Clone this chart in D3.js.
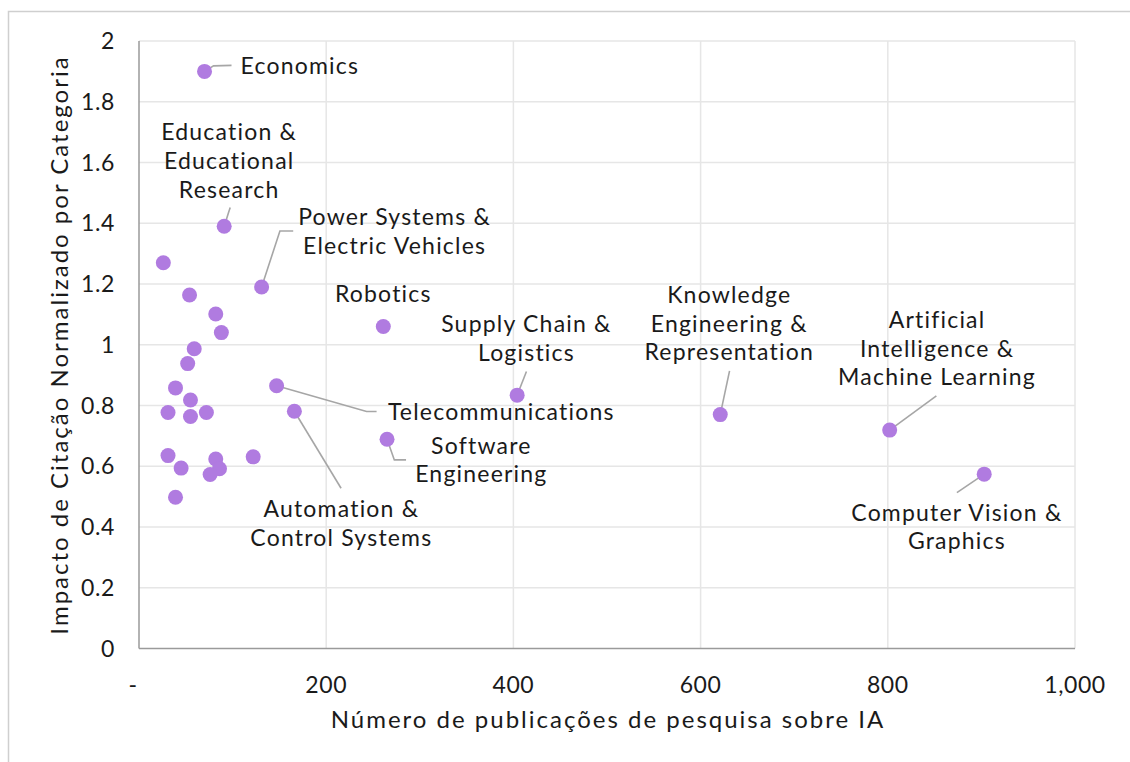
<!DOCTYPE html>
<html>
<head>
<meta charset="utf-8">
<script src="https://cdn.jsdelivr.net/npm/d3@7"></script>
<style>
  body { margin: 0; background: #fff; }
  svg text { font-family: Lato, "Open Sans", sans-serif; fill: #1a1a1a; }
</style>
</head>
<body>
<svg id="drawing_region"></svg>
<script>
// data
const names = [
    "Economics", "Education & Educational Research", "Power Systems & Electric Vehicles",
    "Robotics", "Supply Chain & Logistics", "Telecommunications", "Software Engineering",
    "Automation & Control Systems", "Knowledge Engineering & Representation",
    "Artificial Intelligence & Machine Learning", "Computer Vision & Graphics",
    "", "", "", "", "", "", "", "", "", "", "", "", "", "", "", "", "", ""
];
const publications = [
    70, 91, 131, 261, 404, 147, 265, 166, 621, 802, 903,
    26, 54, 82, 88, 59, 52, 39, 55, 31, 55, 72, 31, 45, 82, 86, 76, 122, 39
];
const impact = [
    1.90, 1.39, 1.19, 1.06, 0.834, 0.865, 0.689, 0.781, 0.770, 0.719, 0.574,
    1.27, 1.164, 1.101, 1.04, 0.987, 0.938, 0.858, 0.818, 0.777, 0.764, 0.777, 0.635, 0.594, 0.624, 0.592, 0.573, 0.631, 0.498
];
const xTicks = [0, 200, 400, 600, 800, 1000];
const yTicks = [0, 0.2, 0.4, 0.6, 0.8, 1, 1.2, 1.4, 1.6, 1.8, 2];
const xTitle = "Número de publicações de pesquisa sobre IA";
const yTitle = "Impacto de Citação Normalizado por Categoria";

// label layout: text lines, offset of first line from the dot, leader path (pixels)
const labelLayout = {
    "Economics": { lines: ["Economics"], dx: 36, dy: -5, anchor: "start", leader: [[0,0],[9,-5.5],[27,-6]] },
    "Education & Educational Research": { lines: ["Education &", "Educational", "Research"], dx: 5, dy: -94, leader: [[0,0],[6,-18.7]] },
    "Power Systems & Electric Vehicles": { lines: ["Power Systems &", "Electric Vehicles"], dx: 133, dy: -70, leader: [[0,0],[18.3,-56],[31.6,-56]] },
    "Robotics": { lines: ["Robotics"], dx: 0, dy: -32.5, leader: null },
    "Supply Chain & Logistics": { lines: ["Supply Chain &", "Logistics"], dx: 9.3, dy: -71.3, leader: [[0,0],[9.3,-23.6]] },
    "Telecommunications": { lines: ["Telecommunications"], dx: 111.3, dy: 25.7, anchor: "start", leader: [[0,0],[90,25.7],[100,25.7]] },
    "Software Engineering": { lines: ["Software", "Engineering"], dx: 94.3, dy: 6.4, leader: [[0,0],[7.3,20.7],[19,20.7]] },
    "Automation & Control Systems": { lines: ["Automation &", "Control Systems"], dx: 47, dy: 97.7, leader: [[0,0],[46.7,77]] },
    "Knowledge Engineering & Representation": { lines: ["Knowledge", "Engineering &", "Representation"], dx: 9, dy: -119.7, leader: [[0,0],[9.3,-43.7]] },
    "Artificial Intelligence & Machine Learning": { lines: ["Artificial", "Intelligence &", "Machine Learning"], dx: 47.4, dy: -110.3, leader: [[0,0],[46.7,-34.3]] },
    "Computer Vision & Graphics": { lines: ["Computer Vision &", "Graphics"], dx: -27.3, dy: 38.4, leader: [[0,0],[-27.3,18.4]] }
};

const config = {
    width: 1130,
    height: 762,
    margin: { top: 41, right: 55, bottom: 113.5, left: 139 }
};

const points = names.map((n, i) => ({ name: n, x: publications[i], y: impact[i] }));

const svg = d3.select("#drawing_region")
    .attr("width", config.width)
    .attr("height", config.height);

// outer chart area border (cropped on right and bottom)
svg.append("rect")
    .attr("x", 8.5).attr("y", 11.5)
    .attr("width", 1200).attr("height", 900)
    .attr("fill", "none")
    .attr("stroke", "#cfcfcf")
    .attr("stroke-width", 1.5);

const iw = config.width - config.margin.left - config.margin.right;
const ih = config.height - config.margin.top - config.margin.bottom;

const chart = svg.append("g")
    .attr("transform", `translate(${config.margin.left}, ${config.margin.top})`);

const xScale = d3.scaleLinear().domain([0, 1000]).range([0, iw]);
const yScale = d3.scaleLinear().domain([0, 2]).range([ih, 0]);

// gridlines
chart.append("g").selectAll("line")
    .data(yTicks.filter(d => d > 0))
    .join("line")
    .attr("x1", 0).attr("x2", iw)
    .attr("y1", d => yScale(d)).attr("y2", d => yScale(d))
    .attr("stroke", "#e6e6e6").attr("stroke-width", 1.5);

chart.append("g").selectAll("line")
    .data(xTicks.filter(d => d > 0))
    .join("line")
    .attr("x1", d => xScale(d)).attr("x2", d => xScale(d))
    .attr("y1", 0).attr("y2", ih)
    .attr("stroke", "#e6e6e6").attr("stroke-width", 1.5);

// axes lines
chart.append("line")
    .attr("x1", 0).attr("x2", 0).attr("y1", 0).attr("y2", ih)
    .attr("stroke", "#9a9a9a").attr("stroke-width", 1.5);
chart.append("line")
    .attr("x1", 0).attr("x2", iw).attr("y1", ih).attr("y2", ih)
    .attr("stroke", "#9a9a9a").attr("stroke-width", 1.5);

// tick labels
chart.append("g").selectAll("text")
    .data(yTicks)
    .join("text")
    .attr("x", -24)
    .attr("y", d => yScale(d))
    .attr("dy", "0.35em")
    .attr("text-anchor", "end")
    .style("font-size", "23px")
    .style("letter-spacing", "0.6px")
    .text(d => String(+d.toFixed(1)));

chart.append("g").selectAll("text")
    .data(xTicks)
    .join("text")
    .attr("x", d => xScale(d) + (d === 0 ? -6 : 0))
    .attr("y", ih + 36)
    .attr("dy", "0.35em")
    .attr("text-anchor", "middle")
    .style("font-size", "23px")
    .style("letter-spacing", "0.6px")
    .text(d => d === 0 ? "-" : d3.format(",")(d));

// axis titles
svg.append("text")
    .attr("x", 608)
    .attr("y", 720)
    .attr("dy", "0.35em")
    .attr("text-anchor", "middle")
    .style("font-size", "24px")
    .style("letter-spacing", "2px")
    .text(xTitle);

svg.append("text")
    .attr("transform", `translate(60, 345) rotate(-90)`)
    .attr("dy", "0.35em")
    .attr("text-anchor", "middle")
    .style("font-size", "24px")
    .style("letter-spacing", "2px")
    .text(yTitle);

// leader lines
const labelled = points.filter(p => p.name && labelLayout[p.name]);
chart.append("g").selectAll("path")
    .data(labelled.filter(p => labelLayout[p.name].leader))
    .join("path")
    .attr("d", p => d3.line()(labelLayout[p.name].leader.map(q => [xScale(p.x) + q[0], yScale(p.y) + q[1]])))
    .attr("fill", "none")
    .attr("stroke", "#a6a6a6")
    .attr("stroke-width", 1.6);

// dots
chart.append("g").selectAll("circle")
    .data(points)
    .join("circle")
    .attr("cx", d => xScale(d.x))
    .attr("cy", d => yScale(d.y))
    .attr("r", 7.5)
    .attr("fill", "#b07be0");

// labels
const lineH = 28.7;
const lbl = chart.append("g").selectAll("text")
    .data(labelled)
    .join("text")
    .attr("text-anchor", p => labelLayout[p.name].anchor || "middle")
    .style("font-size", "23px")
    .style("letter-spacing", "1.2px");

lbl.selectAll("tspan")
    .data(p => labelLayout[p.name].lines.map((t, i) => ({ t, i, p })))
    .join("tspan")
    .attr("x", d => xScale(d.p.x) + labelLayout[d.p.name].dx)
    .attr("y", d => yScale(d.p.y) + labelLayout[d.p.name].dy + d.i * lineH)
    .attr("dy", "0.35em")
    .text(d => d.t);
</script>
</body>
</html>
